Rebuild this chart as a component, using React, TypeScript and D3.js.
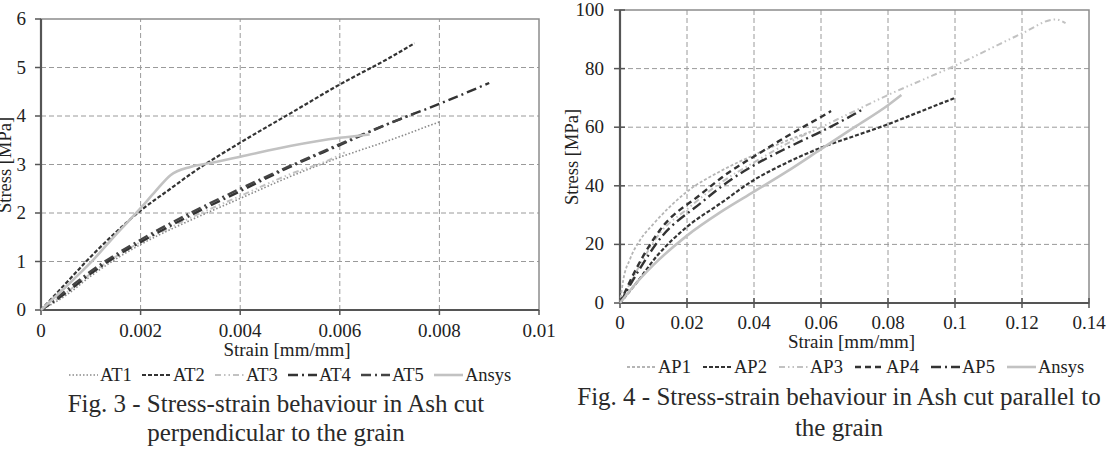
import React, { useEffect, useRef } from 'react';
import * as d3 from 'd3';

// Fig. 3 - perpendicular to the grain (strain, stress MPa)
const at1 = [[0, 0], [0.0005, 0.3], [0.001, 0.7], [0.0015, 1.05], [0.002, 1.35], [0.003, 1.85], [0.004, 2.3], [0.005, 2.75], [0.006, 3.15], [0.007, 3.5], [0.008, 3.88]];
const at2 = [[0, 0], [0.0005, 0.55], [0.001, 1.1], [0.0015, 1.6], [0.002, 2.05], [0.0026, 2.5], [0.003, 2.8], [0.004, 3.45], [0.005, 4.05], [0.006, 4.65], [0.007, 5.2], [0.0075, 5.5]];
const at3 = [[0, 0], [0.0005, 0.35], [0.001, 0.75], [0.002, 1.4], [0.0025, 1.65], [0.003, 1.9], [0.004, 2.35], [0.005, 2.8], [0.0058, 3.1], [0.0061, 3.25]];
const at4 = [[0, 0], [0.0005, 0.35], [0.001, 0.75], [0.0015, 1.1], [0.002, 1.4], [0.003, 1.95], [0.004, 2.45], [0.005, 2.95], [0.006, 3.4], [0.007, 3.85], [0.008, 4.25], [0.009, 4.68]];
const at5 = [[0, 0], [0.0005, 0.4], [0.001, 0.8], [0.002, 1.45], [0.003, 2.0], [0.004, 2.5], [0.005, 2.97], [0.006, 3.42], [0.007, 3.85], [0.0075, 4.05]];
const ansysT = [[0, 0], [0.0005, 0.48], [0.001, 0.98], [0.0015, 1.55], [0.002, 2.1], [0.0023, 2.45], [0.0026, 2.78], [0.003, 2.95], [0.0034, 3.03], [0.004, 3.16], [0.005, 3.38], [0.006, 3.55], [0.0066, 3.62]];

// Fig. 4 - parallel to the grain
const ap1 = [[0, 0], [0.001, 8], [0.003, 15], [0.006, 21.5], [0.01, 27], [0.02, 38], [0.03, 45], [0.04, 50.5], [0.05, 55.5], [0.057, 58.5]];
const ap2 = [[0, 0], [0.005, 7], [0.011, 16], [0.02, 26], [0.03, 34], [0.04, 42], [0.05, 48], [0.06, 53], [0.07, 57], [0.08, 61], [0.09, 65.5], [0.1, 70]];
const ap3 = [[0, 0], [0.005, 11], [0.012, 24], [0.02, 32], [0.03, 41], [0.04, 48], [0.05, 54.5], [0.06, 60], [0.07, 65.5], [0.08, 71], [0.09, 76], [0.1, 81], [0.11, 86.5], [0.12, 92], [0.13, 96.8], [0.133, 95.5]];
const ap4 = [[0, 0], [0.005, 12], [0.012, 25], [0.024, 37], [0.033, 45], [0.04, 50], [0.05, 57], [0.06, 63.5], [0.063, 65.5]];
const ap5 = [[0, 0], [0.005, 10], [0.012, 22], [0.024, 34], [0.033, 42], [0.04, 47], [0.05, 53], [0.06, 58.5], [0.07, 64.5], [0.073, 66.5]];
const ansysP = [[0, 0], [0.005, 7], [0.01, 13], [0.02, 23], [0.03, 31], [0.04, 38], [0.05, 45], [0.06, 52.5], [0.07, 60], [0.08, 67.5], [0.084, 71]];

const xTicksT = [0, 0.002, 0.004, 0.006, 0.008, 0.01];
const xLabelsT = ['0', '0.002', '0.004', '0.006', '0.008', '0.01'];
const yTicksT = [0, 1, 2, 3, 4, 5, 6];
const xTicksP = [0, 0.02, 0.04, 0.06, 0.08, 0.1, 0.12, 0.14];
const xLabelsP = ['0', '0.02', '0.04', '0.06', '0.08', '0.1', '0.12', '0.14'];
const yTicksP = [0, 20, 40, 60, 80, 100];

const namesT = ['AT1', 'AT2', 'AT3', 'AT4', 'AT5', 'Ansys'];
const namesP = ['AP1', 'AP2', 'AP3', 'AP4', 'AP5', 'Ansys'];

const DARK = '#333';
const LIGHT = '#c2c2c2';
const font = '"Liberation Serif", "Times New Roman", serif';

const stylesT = [
    { color: '#8a8a8a', dash: '1.5 2', width: 1.6 },
    { color: DARK, dash: '4 2', width: 2.2 },
    { color: LIGHT, dash: '6 3 1.5 3 1.5 3', width: 2 },
    { color: DARK, dash: '10 4 2 4', width: 2.4 },
    { color: '#444', dash: '10 4 2 4', width: 2.4 },
    { color: LIGHT, dash: null, width: 2.6 },
];
const stylesP = [
    { color: '#b5b5b5', dash: '3 2', width: 1.8 },
    { color: DARK, dash: '4 2', width: 2.2 },
    { color: LIGHT, dash: '6 3 1.5 3 1.5 3', width: 2 },
    { color: DARK, dash: '6 4', width: 2.4 },
    { color: DARK, dash: '10 4 2 4', width: 2.4 },
    { color: LIGHT, dash: null, width: 2.6 },
];

const drawChart = (svg, cfg) => {
    const { x, y, xTicks, xLabels, yTicks, series, styles, names, crossTicks } = cfg;
    const [x0, x1] = x.range();
    const [y0, y1] = y.range();
    const g = svg.append('g');

    // grid
    g.selectAll('.vgrid')
        .data(xTicks.slice(1, -1))
        .enter()
        .append('line')
        .attr('x1', d => x(d)).attr('x2', d => x(d))
        .attr('y1', y0).attr('y2', y1)
        .attr('stroke', '#9a9a9a').attr('stroke-width', 1)
        .attr('stroke-dasharray', '5 3');
    g.selectAll('.hgrid')
        .data(yTicks.slice(1, -1))
        .enter()
        .append('line')
        .attr('x1', x0).attr('x2', x1)
        .attr('y1', d => y(d)).attr('y2', d => y(d))
        .attr('stroke', '#9a9a9a').attr('stroke-width', 1)
        .attr('stroke-dasharray', '5 3');

    // frame
    g.append('rect')
        .attr('x', x0).attr('y', y1)
        .attr('width', x1 - x0).attr('height', y0 - y1)
        .attr('fill', 'none').attr('stroke', '#8c8c8c').attr('stroke-width', 1.5);
    g.append('line').attr('x1', x0).attr('x2', x0).attr('y1', y1).attr('y2', y0)
        .attr('stroke', '#555').attr('stroke-width', 2.2);
    g.append('line').attr('x1', x0).attr('x2', x1).attr('y1', y0).attr('y2', y0)
        .attr('stroke', '#555').attr('stroke-width', 2);

    // ticks
    const inner = crossTicks ? 5 : 0;
    g.selectAll('.xt').data(xTicks).enter().append('line')
        .attr('x1', d => x(d)).attr('x2', d => x(d))
        .attr('y1', y0 - inner).attr('y2', y0 + 5)
        .attr('stroke', '#555').attr('stroke-width', 1.5);
    g.selectAll('.yt').data(yTicks).enter().append('line')
        .attr('x1', x0 - 6).attr('x2', x0 + inner)
        .attr('y1', d => y(d)).attr('y2', d => y(d))
        .attr('stroke', '#555').attr('stroke-width', 1.5);

    // series
    const line = d3.line().x(d => x(d[0])).y(d => y(d[1])).curve(d3.curveMonotoneX);
    series.forEach((s, i) => {
        const st = styles[i];
        g.append('path')
            .attr('d', line(s))
            .attr('fill', 'none')
            .attr('stroke', st.color)
            .attr('stroke-width', st.width)
            .attr('stroke-dasharray', st.dash)
            .attr('stroke-linecap', 'butt');
    });

    // tick labels
    g.selectAll('.xl').data(xTicks).enter().append('text')
        .attr('x', d => x(d)).attr('y', cfg.xLabelY)
        .attr('text-anchor', 'middle')
        .style('font-family', font).style('font-size', '19px').style('fill', '#222')
        .text((d, i) => xLabels[i]);
    g.selectAll('.yl').data(yTicks).enter().append('text')
        .attr('x', cfg.yLabelX).attr('y', d => y(d) + 6)
        .attr('text-anchor', 'end')
        .style('font-family', font).style('font-size', '19px').style('fill', '#222')
        .text(d => d);

    // axis titles
    g.append('text')
        .attr('x', (x0 + x1) / 2 - 3).attr('y', cfg.xTitleY)
        .attr('text-anchor', 'middle')
        .style('font-family', font).style('font-size', '19px').style('fill', '#222')
        .text('Strain [mm/mm]');
    g.append('text')
        .attr('transform', `translate(${cfg.yTitleX}, ${cfg.yTitleCY}) rotate(-90)`)
        .attr('text-anchor', 'middle')
        .style('font-family', font).style('font-size', '18.5px').style('fill', '#222')
        .text('Stress [MPa]');

    // legend
    const lx = d3.scaleLinear().domain([0, 1]).range([cfg.legendX, cfg.legendX + cfg.legendStep]);
    const legend = g.selectAll('.legend')
        .data(names)
        .enter()
        .append('g')
        .attr('transform', (d, i) => `translate(${lx(i)}, ${cfg.legendY})`);
    legend.append('line')
        .attr('x1', 0).attr('x2', 29).attr('y1', -6).attr('y2', -6)
        .attr('stroke', (d, i) => styles[i].color)
        .attr('stroke-width', (d, i) => styles[i].width)
        .attr('stroke-dasharray', (d, i) => styles[i].dash);
    legend.append('text')
        .attr('x', 31).attr('y', 0)
        .style('font-family', font).style('font-size', '18.5px').style('fill', '#222')
        .text(d => d);

    // caption
    cfg.caption.forEach((c, i) => {
        g.append('text')
            .attr('x', cfg.captionX).attr('y', cfg.captionY[i])
            .attr('text-anchor', 'middle')
            .style('font-family', font).style('font-size', '25px').style('fill', '#2a2a2a')
            .text(c);
    });
};

const App = () => {
    const ref = useRef(null);

    useEffect(() => {
        const svg = d3.select(ref.current);
        svg.selectAll('*').remove();

        drawChart(svg, {
            x: d3.scaleLinear().domain([0, 0.01]).range([41, 539]),
            y: d3.scaleLinear().domain([0, 6]).range([310, 19]),
            xTicks: xTicksT, xLabels: xLabelsT, yTicks: yTicksT,
            series: [at1, at2, at3, at4, at5, ansysT],
            styles: stylesT, names: namesT, crossTicks: false,
            xLabelY: 337, yLabelX: 26, xTitleY: 356, yTitleX: 11, yTitleCY: 165,
            legendX: 69, legendStep: 73, legendY: 381,
            caption: ['Fig. 3 - Stress-strain behaviour in Ash cut', 'perpendicular to the grain'],
            captionX: 276, captionY: [412, 441],
        });

        drawChart(svg, {
            x: d3.scaleLinear().domain([0, 0.14]).range([620, 1089]),
            y: d3.scaleLinear().domain([0, 100]).range([303, 10]),
            xTicks: xTicksP, xLabels: xLabelsP, yTicks: yTicksP,
            series: [ap1, ap2, ap3, ap4, ap5, ansysP],
            styles: stylesP, names: namesP, crossTicks: true,
            xLabelY: 329, yLabelX: 604, xTitleY: 348, yTitleX: 578, yTitleCY: 157,
            legendX: 627, legendStep: 76, legendY: 373,
            caption: ['Fig. 4 - Stress-strain behaviour in Ash cut parallel to', 'the grain'],
            captionX: 839, captionY: [405, 436],
        });
    }, []);

    return (
        <div style={{ position: 'absolute', left: 0, top: 0, width: 1110, height: 460, background: '#fff' }}>
            <svg ref={ref} width={1110} height={460}></svg>
        </div>
    );
};

export default App;
